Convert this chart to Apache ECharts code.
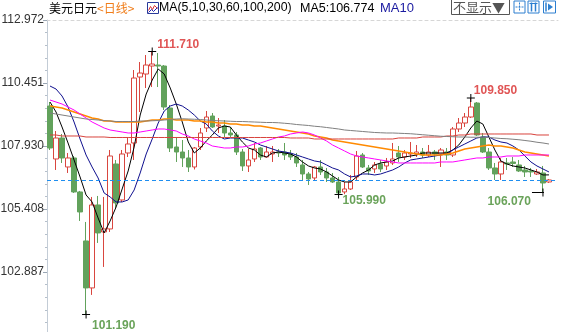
<!DOCTYPE html>
<html><head><meta charset="utf-8">
<script src="https://cdn.jsdelivr.net/npm/echarts@6/dist/echarts.min.js"></script>
<style>html,body{margin:0;padding:0;background:#fff}#c{width:561px;height:332px}</style>
</head><body><div id="c"></div>
<script>
// ---- data ----
// candles: [open, close, low, high]
const ohlc = [
[109.53,107.85,107.77,109.69],[107.41,108.25,106.97,108.53],[108.25,107.45,107.25,108.41],[107.09,107.45,106.85,107.65],
[107.45,106.09,106.05,107.53],[106.09,105.29,104.93,106.13],[104.13,102.25,101.19,104.89],[102.25,105.57,101.97,105.89],
[105.57,104.45,104.05,105.93],[104.49,104.61,103.09,105.89],[104.61,107.53,104.49,107.77],[107.21,105.65,105.45,107.37],
[105.77,107.61,105.69,107.77],[107.65,108.01,107.49,108.25],[108.05,110.65,107.37,110.97],[110.69,110.85,109.29,111.29],
[110.81,111.17,110.25,111.57],[111.13,111.21,110.29,111.71],[111.17,111.13,110.29,111.65],[111.13,109.49,109.37,111.17],
[109.45,107.85,107.69,109.57],[107.89,107.69,107.29,108.29],[107.69,107.45,107.09,108.17],[107.45,107.09,106.89,107.77],
[107.09,107.85,106.99,107.89],[107.89,108.45,107.77,108.65],[108.65,109.09,108.49,109.33],[109.13,108.69,108.65,109.25],
[108.73,108.77,108.45,109.05],[108.73,108.45,108.29,108.97],[108.45,108.37,108.29,108.69],[108.37,107.69,107.57,108.49],
[107.69,107.13,106.93,107.81],[107.13,107.37,106.89,107.81],[107.41,107.81,107.29,108.05],[107.85,107.49,107.37,107.89],
[107.49,107.69,107.47,107.93],[107.61,107.69,107.29,107.93],[107.69,107.65,107.49,107.81],[107.69,107.57,107.37,108.05],
[107.61,107.49,107.37,107.77],[107.49,107.25,107.09,107.65],[107.17,106.81,106.57,107.37],[106.81,106.61,106.37,106.89],
[106.65,107.09,106.57,107.13],[107.09,106.89,106.77,107.37],[106.89,106.65,106.49,107.05],[106.65,106.49,106.45,106.85],
[106.49,106.05,105.99,106.69],[106.09,106.21,106.00,106.49],[106.21,106.49,106.17,106.77],[106.69,107.53,106.57,107.73],
[107.57,107.09,107.05,107.65],[107.05,106.93,106.77,107.17],[107.01,107.17,106.85,107.29],[107.21,107.01,106.89,107.37],
[107.13,107.29,106.97,107.45],[107.25,107.41,107.17,108.05],[107.65,107.49,107.29,107.93],[107.49,107.65,107.37,107.77],
[107.61,107.65,107.45,108.09],[107.61,107.69,107.49,107.97],[107.69,107.57,107.45,107.85],[107.57,107.69,107.49,107.97],
[107.69,107.61,107.37,107.77],[107.61,107.77,107.09,107.85],[107.69,107.57,107.37,107.85],[107.57,108.61,107.49,108.69],
[108.61,108.85,108.49,109.05],[108.85,109.09,108.69,109.25],[109.09,109.49,109.05,109.85],[109.65,108.37,108.33,109.69],
[108.29,107.69,107.65,108.45],[107.69,107.05,106.97,107.85],[107.05,106.81,106.57,107.25],[106.81,107.29,106.57,107.45],
[107.25,107.21,106.97,107.45],[107.29,107.23,107.09,107.49],[107.17,106.93,106.89,107.37],[106.97,106.89,106.69,107.13],
[106.93,106.89,106.69,107.05],[106.81,106.89,106.77,107.01],[106.85,106.45,106.07,107.13],[106.49,106.57,106.45,106.61]
];
const ma5 = [109.69,109.29,108.69,108.05,107.37,106.69,105.97,105.69,105.05,104.45,104.93,105.49,106.21,106.93,107.89,109.17,110.01,110.57,111.01,110.81,
110.25,109.61,108.89,108.09,107.65,107.85,108.13,108.37,108.65,108.73,108.69,108.37,108.09,107.85,107.77,107.57,107.49,107.65,107.69,107.65,
107.61,107.49,107.29,107.13,107.05,107.01,106.89,106.73,106.57,106.49,106.49,106.69,106.85,106.97,107.17,107.25,107.29,107.33,107.45,107.49,
107.53,107.57,107.65,107.65,107.65,107.65,107.65,107.77,107.97,108.29,108.65,108.93,108.81,108.29,107.77,107.33,107.21,107.13,107.09,107.05,
106.97,106.89,106.77,106.774];
const ma10 = [110.33,110.21,109.93,109.49,108.89,108.21,107.57,107.09,106.65,106.05,105.89,105.69,105.69,105.77,106.17,106.85,107.61,108.21,108.85,109.33,
109.53,109.61,109.53,109.37,109.17,108.93,108.81,108.53,108.33,108.21,108.25,108.25,108.25,108.17,108.09,107.97,107.89,107.81,107.73,107.69,
107.65,107.57,107.49,107.41,107.33,107.29,107.17,107.05,106.97,106.81,106.69,106.73,106.81,106.81,106.77,106.81,106.89,106.97,107.09,107.25,
107.37,107.41,107.45,107.49,107.53,107.57,107.61,107.77,107.89,108.01,108.13,108.25,108.29,108.29,108.17,108.09,108.05,107.93,107.77,107.53,
107.29,107.13,107.01,106.89];
const ma30 = [109.53,109.49,109.45,109.37,109.29,109.21,109.13,109.05,109.01,108.93,108.93,108.89,108.89,108.89,108.89,108.89,108.93,108.97,108.97,109.01,
109.01,108.97,108.97,108.97,108.93,108.93,108.89,108.89,108.85,108.85,108.81,108.81,108.77,108.77,108.73,108.73,108.69,108.65,108.61,108.57,
108.53,108.49,108.45,108.41,108.33,108.29,108.25,108.17,108.13,108.09,108.05,108.01,107.97,107.93,107.89,107.85,107.81,107.77,107.73,107.69,
107.65,107.61,107.57,107.57,107.57,107.57,107.61,107.65,107.73,107.81,107.85,107.89,107.93,107.97,107.93,107.93,107.89,107.85,107.77,107.69,
107.65,107.61,107.57,107.53];
const ma60 = [109.77,109.69,109.61,109.49,109.37,109.21,109.05,108.89,108.77,108.65,108.57,108.53,108.49,108.45,108.45,108.49,108.53,108.57,108.61,108.61,
108.57,108.53,108.41,108.33,108.21,108.13,108.05,107.93,107.89,107.85,107.85,107.89,107.89,107.93,108.01,108.05,108.13,108.21,108.29,108.33,
108.41,108.45,108.49,108.45,108.37,108.25,108.13,107.97,107.85,107.73,107.61,107.53,107.49,107.45,107.41,107.37,107.33,107.29,107.25,107.25,
107.25,107.25,107.25,107.25,107.25,107.29,107.29,107.29,107.33,107.37,107.41,107.45,107.45,107.49,107.49,107.49,107.53,107.53,107.53,107.57,
107.57,107.57,107.57,107.57];
const ma100 = [108.37,108.37,108.33,108.33,108.33,108.33,108.29,108.29,108.29,108.29,
108.27,108.27,108.27,108.27,108.27,108.27,108.27,108.27,108.27,108.27,108.27,108.27,108.27,108.27,108.27,108.27,108.27,108.27,108.27,108.27,
108.27,108.27,108.27,108.27,108.27,108.27,108.27,108.27,108.27,108.27,108.25,108.25,108.25,108.25,108.21,108.21,108.21,108.21,108.21,108.21,
108.21,108.21,108.21,108.21,108.21,108.21,108.21,108.21,108.25,108.25,108.25,108.25,108.29,108.29,108.29,108.29,108.33,108.33,108.37,108.37,
108.41,108.41,108.41,108.41,108.41,108.41,108.41,108.41,108.41,108.41,108.41,108.37,108.37,108.37];
const ma200 = [109.25,109.21,109.17,109.13,109.09,109.05,109.01,108.99,108.97,108.95,108.93,108.91,108.91,108.91,108.91,108.93,108.93,108.94,108.95,108.97,
108.99,109.01,109.02,109.01,109.00,108.99,108.97,108.95,108.94,108.93,108.92,108.91,108.91,108.90,108.89,108.88,108.87,108.87,108.86,108.84,
108.82,108.79,108.77,108.75,108.72,108.70,108.67,108.64,108.61,108.57,108.55,108.53,108.51,108.49,108.47,108.46,108.45,108.45,108.44,108.43,
108.42,108.40,108.38,108.36,108.34,108.32,108.31,108.30,108.29,108.29,108.28,108.28,108.28,108.27,108.25,108.23,108.22,108.20,108.18,108.15,
108.12,108.08,108.05,108.01];
// y-axis tick labels
const yTicks = [100.366, 102.887, 105.408, 107.930, 110.451, 112.972];
// annotated extremes: candle index (0-based) and which price
const extremes = [
  {name:'hi1', idx:17, field:'high'},
  {name:'hi2', idx:70, field:'high'},
  {name:'lo1', idx:6,  field:'low'},
  {name:'lo2', idx:48, field:'low'},
  {name:'lo3', idx:82, field:'low'}
];
const categories = ohlc.map((_, i) => 'D' + (i + 1)).concat(['']);

// ---- styles ----
const UP = '#d9463f', DOWN = '#62a25c';
const crossPath = 'path://M0,3.5h8v1h-8z M3.5,0h1v8h-1z';
const longPath = 'path://M0,3.5h12v1h-12z M10.5,0h1v8h-1z';
const markStyle = {
  hi1:{color:'#e05555', position:[9,-3], align:'left'},
  hi2:{color:'#e05555', position:[7,-3], align:'left'},
  lo1:{color:'#6aa35a', position:[10,15], align:'left'},
  lo2:{color:'#6aa35a', position:[8,10], align:'left'},
  lo3:{color:'#6aa35a', position:[-1,13], align:'right', long:true}
};

const markData = extremes.map(e => {
  const v = e.field === 'high' ? ohlc[e.idx][3] : ohlc[e.idx][2];
  const s = markStyle[e.name];
  return {
    coord: [e.idx, v], value: v,
    symbol: s.long ? longPath : crossPath,
    symbolSize: s.long ? [12, 8] : [8, 8],
    symbolOffset: s.long ? [-5, 0] : [0, 0],
    itemStyle: {color: '#000'},
    label: {show: true, formatter: v.toFixed(3), position: s.position, align: s.align, verticalAlign: 'middle',
      color: s.color, fontWeight: 'bold', fontSize: 12, fontFamily: 'Liberation Sans, Arial, sans-serif',
      textBorderColor: 'rgba(255,255,255,0.9)', textBorderWidth: 1}
  };
});

function maSeries(name, data, color, width) {
  return {name, type:'line', data, showSymbol:false, symbol:'none', smooth:false, silent:true,
    lineStyle:{color, width: width || 1}, z: 3};
}
function tickLabel(v) {
  let best = yTicks[0];
  yTicks.forEach(t => { if (Math.abs(t - v) < Math.abs(best - v)) best = t; });
  return best.toFixed(3);
}

const chart = echarts.init(document.getElementById('c'), null, {renderer:'canvas'});
const F = 'Liberation Sans, Arial, sans-serif';
const CJK = 'Noto Sans CJK SC, sans-serif';
chart.setOption({
  animation: false,
  backgroundColor: '#fff',
  grid: {left: 47, right: 3, top: 20, bottom: -3, containLabel: false, outerBoundsMode: 'none'},
  xAxis: [
    {type:'category', data: categories, boundaryGap: true, axisLine:{show:false}, axisTick:{show:false}, axisLabel:{show:false}, splitLine:{show:false}},
    {type:'category', data: categories, position:'top', boundaryGap: true, axisLine:{show:true, lineStyle:{color:'#d6d6d6', type:[3,3]}}, axisTick:{show:false}, axisLabel:{show:false}, splitLine:{show:false}}
  ],
  yAxis: {
    type:'value', min: yTicks[0], max: yTicks[yTicks.length-1], interval: (yTicks[yTicks.length-1]-yTicks[0])/(yTicks.length-1),
    axisLine:{show:true, lineStyle:{color:'#c3ccd6'}},
    axisTick:{show:true, length:4, lineStyle:{color:'#9aa6b4'}},
    minorTick:{show:true, splitNumber:5, length:2, lineStyle:{color:'#b5bfca'}},
    axisLabel:{formatter: tickLabel, color:'#333', fontSize:12, fontFamily:F, margin:3, showMinLabel:false},
    splitLine:{show:false}
  },
  series: [
    {name:'K', type:'candlestick', data: ohlc, barWidth: 5, z: 2,
      itemStyle:{color:'#ffffff', color0: DOWN, borderColor: UP, borderColor0: DOWN, borderWidth: 1},
      markLine:{silent:true, symbol:['none','none'], label:{show:false},
        lineStyle:{color:'#1e8ef0', type:[4,3], width:1},
        data:[{yAxis: ohlc[ohlc.length-1][1]}]},
      markPoint:{silent:true, data: markData}
    },
    maSeries('MA5', ma5, '#000000'),
    maSeries('MA10', ma10, '#10108f'),
    maSeries('MA30', ma30, '#ff8a00', 1.5),
    maSeries('MA60', ma60, '#ff00ff'),
    maSeries('MA100', ma100, '#d8423c'),
    maSeries('MA200', ma200, '#808080')
  ],
  graphic: [
    {type:'text', left: 49, top: 2, style:{text:'美元日元', font:'12px '+CJK, fill:'#000'}},
    {type:'text', left: 97, top: 2, style:{text:'<日线>', font:'12px '+CJK, fill:'#f07d1a'}},
    {type:'group', left: 146, top: 2, children:[
      {type:'rect', shape:{x:0,y:0,width:11,height:11}, style:{fill:'#fff', stroke:'#2a3a9a', lineWidth:1}},
      {type:'polyline', shape:{points:[[1,8],[3,4],[5,7],[7,3],[10,6]]}, style:{stroke:'#d33', lineWidth:1, fill:null}},
      {type:'polyline', shape:{points:[[1,10],[4,7],[6,9],[10,5]]}, style:{stroke:'#22a', lineWidth:1, fill:null}}
    ]},
    {type:'text', left: 159, top: 2, style:{text:'MA(5,10,30,60,100,200)', font:'12.3px '+F, fill:'#000'}},
    {type:'text', left: 300, top: 2, style:{text:'MA5:' + ma5[ma5.length-1].toFixed(3), font:'12.5px '+F, fill:'#000'}},
    {type:'text', left: 380, top: 2, style:{text:'MA10', font:'13px '+F, fill:'#1a1aa0'}},
    {type:'rect', shape:{x:451.5, y:-1.5, width:58, height:16}, style:{fill:'#fff', stroke:'#555', lineWidth:1}},
    {type:'text', left: 453, top: 1, style:{text:'不显示▼', font:'13px '+CJK, fill:'#555'}},
    {type:'group', left: 513, top: 0, children:[
      {type:'rect', shape:{x:0.5,y:0.5,width:11,height:12}, style:{fill:'#fff', stroke:'#2c7fd0', lineWidth:1}},
      {type:'line', shape:{x1:6,y1:2,x2:6,y2:11}, style:{stroke:'#2c7fd0', lineWidth:1, lineDash:[2,1]}},
      {type:'line', shape:{x1:2,y1:6.5,x2:10,y2:6.5}, style:{stroke:'#2c7fd0', lineWidth:1, lineDash:[2,1]}}
    ]},
    {type:'group', left: 527, top: 0, children:[
      {type:'rect', shape:{x:0.5,y:0.5,width:11,height:12}, style:{fill:'#fff', stroke:'#2c7fd0', lineWidth:1}},
      {type:'line', shape:{x1:4,y1:2,x2:4,y2:11}, style:{stroke:'#2c7fd0', lineWidth:1.5}},
      {type:'line', shape:{x1:8,y1:2,x2:8,y2:11}, style:{stroke:'#2c7fd0', lineWidth:1.5}},
      {type:'line', shape:{x1:2,y1:3,x2:10,y2:3}, style:{stroke:'#2c7fd0', lineWidth:1}}
    ]},
    {type:'group', left: 543, top: 0, children:[
      {type:'rect', shape:{x:0.5,y:0.5,width:12,height:12}, style:{fill:'#fff', stroke:'#2c7fd0', lineWidth:1}},
      {type:'line', shape:{x1:3,y1:2,x2:3,y2:11}, style:{stroke:'#2c7fd0', lineWidth:1.5}},
      {type:'polygon', shape:{points:[[5,3],[10,6.5],[5,10]]}, style:{fill:'#2c7fd0'}}
    ]}
  ]
});
</script>
</body></html>
